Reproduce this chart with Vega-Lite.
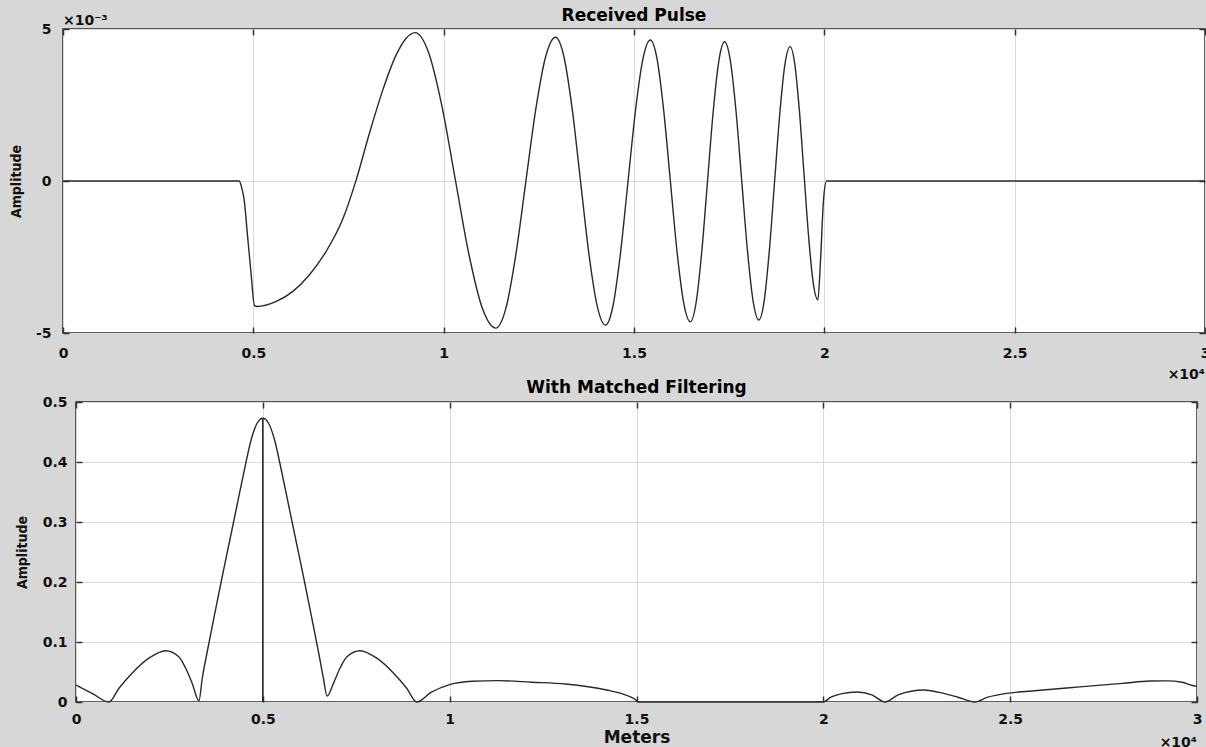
{
  "$schema": "https://vega.github.io/schema/vega-lite/v6.json",
  "background": "#d7d7d7",
  "padding": {"left": 8, "top": 6, "right": 0, "bottom": 0},
  "spacing": -5,
  "datasets": {
    "pulse": [
      {"m": 0, "amp": 0}, {"m": 4630, "amp": 0}, {"m": 4690, "amp": -0.0002}, {"m": 4760, "amp": -0.00063},
      {"m": 4850, "amp": -0.00183}, {"m": 4940, "amp": -0.00304}, {"m": 5030, "amp": -0.0041}, {"m": 5100, "amp": -0.00413},
      {"m": 5590, "amp": -0.00397}, {"m": 6030, "amp": -0.00364}, {"m": 6470, "amp": -0.00309}, {"m": 6910, "amp": -0.00232},
      {"m": 7350, "amp": -0.00125}, {"m": 7700, "amp": 0.00003}, {"m": 8050, "amp": 0.00157}, {"m": 8400, "amp": 0.00299},
      {"m": 8750, "amp": 0.00414}, {"m": 9010, "amp": 0.00469}, {"m": 9250, "amp": 0.00488},
      {"m": 9603, "amp": 0.004229}, {"m": 9957, "amp": 0.00245}, {"m": 10310, "amp": 0.00002}, {"m": 10663, "amp": -0.00241},
      {"m": 11017, "amp": -0.004189}, {"m": 11370, "amp": -0.00484},
      {"m": 11632, "amp": -0.004199}, {"m": 11893, "amp": -0.002448}, {"m": 12155, "amp": -0.000055}, {"m": 12417, "amp": 0.002338},
      {"m": 12678, "amp": 0.004089}, {"m": 12940, "amp": 0.00473},
      {"m": 13158, "amp": 0.004096}, {"m": 13377, "amp": 0.002363}, {"m": 13595, "amp": -0.000005}, {"m": 13813, "amp": -0.002373},
      {"m": 14032, "amp": -0.004106}, {"m": 14250, "amp": -0.00474},
      {"m": 14447, "amp": -0.004112}, {"m": 14643, "amp": -0.002395}, {"m": 14840, "amp": -0.00005}, {"m": 15037, "amp": 0.002295},
      {"m": 15233, "amp": 0.004012}, {"m": 15430, "amp": 0.00464},
      {"m": 15605, "amp": 0.004019}, {"m": 15780, "amp": 0.002323}, {"m": 15955, "amp": 0.000005}, {"m": 16130, "amp": -0.002313},
      {"m": 16305, "amp": -0.004009}, {"m": 16480, "amp": -0.00463},
      {"m": 16630, "amp": -0.004013}, {"m": 16780, "amp": -0.002328}, {"m": 16930, "amp": -0.000025}, {"m": 17080, "amp": 0.002278},
      {"m": 17230, "amp": 0.003963}, {"m": 17380, "amp": 0.00458},
      {"m": 17530, "amp": 0.003967}, {"m": 17680, "amp": 0.002293}, {"m": 17830, "amp": 0.000005}, {"m": 17980, "amp": -0.002283},
      {"m": 18130, "amp": -0.003957}, {"m": 18280, "amp": -0.00457},
      {"m": 18417, "amp": -0.003968}, {"m": 18553, "amp": -0.002323}, {"m": 18690, "amp": -0.000075}, {"m": 18827, "amp": 0.002173},
      {"m": 18963, "amp": 0.003818}, {"m": 19100, "amp": 0.00442},
      {"m": 19222, "amp": 0.003862}, {"m": 19343, "amp": 0.002338}, {"m": 19465, "amp": 0.000255}, {"m": 19587, "amp": -0.001828},
      {"m": 19708, "amp": -0.003352}, {"m": 19830, "amp": -0.00391},
      {"m": 19900, "amp": -0.0026}, {"m": 19980, "amp": -0.0006}, {"m": 20060, "amp": 0}, {"m": 30000, "amp": 0}
    ],
    "filtered": [
      {"m": 0, "amp": 0.028}, {"m": 440, "amp": 0.014}, {"m": 880, "amp": 0.0}, {"m": 1150, "amp": 0.023},
      {"m": 1500, "amp": 0.048}, {"m": 1950, "amp": 0.073}, {"m": 2400, "amp": 0.0855}, {"m": 2750, "amp": 0.0755},
      {"m": 2930, "amp": 0.057}, {"m": 3110, "amp": 0.031}, {"m": 3290, "amp": 0.002},
      {"m": 3380, "amp": 0.04}, {"m": 3500, "amp": 0.08}, {"m": 3700, "amp": 0.143}, {"m": 3900, "amp": 0.205},
      {"m": 4100, "amp": 0.265}, {"m": 4300, "amp": 0.325}, {"m": 4500, "amp": 0.385}, {"m": 4700, "amp": 0.44},
      {"m": 4850, "amp": 0.465}, {"m": 5000, "amp": 0.473}, {"m": 5150, "amp": 0.465}, {"m": 5300, "amp": 0.44},
      {"m": 5500, "amp": 0.385}, {"m": 5700, "amp": 0.325}, {"m": 5900, "amp": 0.265}, {"m": 6100, "amp": 0.205},
      {"m": 6300, "amp": 0.143}, {"m": 6500, "amp": 0.08}, {"m": 6620, "amp": 0.04}, {"m": 6720, "amp": 0.01},
      {"m": 6890, "amp": 0.031}, {"m": 7070, "amp": 0.057}, {"m": 7250, "amp": 0.0755}, {"m": 7600, "amp": 0.0855},
      {"m": 8050, "amp": 0.073}, {"m": 8500, "amp": 0.048}, {"m": 8850, "amp": 0.023}, {"m": 9120, "amp": 0.0},
      {"m": 9500, "amp": 0.016}, {"m": 10000, "amp": 0.029}, {"m": 10600, "amp": 0.0345}, {"m": 11300, "amp": 0.0356},
      {"m": 12200, "amp": 0.033}, {"m": 13100, "amp": 0.03}, {"m": 14200, "amp": 0.02}, {"m": 14700, "amp": 0.012},
      {"m": 14950, "amp": 0.005}, {"m": 15050, "amp": 0}, {"m": 20000, "amp": 0}, {"m": 20200, "amp": 0.008},
      {"m": 20500, "amp": 0.014}, {"m": 20900, "amp": 0.0167}, {"m": 21300, "amp": 0.012}, {"m": 21650, "amp": 0.0},
      {"m": 22000, "amp": 0.012}, {"m": 22350, "amp": 0.018}, {"m": 22700, "amp": 0.02}, {"m": 23100, "amp": 0.016},
      {"m": 23600, "amp": 0.008}, {"m": 24050, "amp": 0.0}, {"m": 24400, "amp": 0.008}, {"m": 24900, "amp": 0.0144},
      {"m": 25500, "amp": 0.018}, {"m": 26950, "amp": 0.0256}, {"m": 28000, "amp": 0.031}, {"m": 28750, "amp": 0.035},
      {"m": 29200, "amp": 0.0352}, {"m": 29600, "amp": 0.033}, {"m": 29850, "amp": 0.028}, {"m": 30000, "amp": 0.026}
    ],
    "stem": [{"m": 5000, "lo": 0, "hi": 0.473}],
    "expTop": [{"t": "×10⁻³"}],
    "exp4": [{"t": "×10⁴"}]
  },
  "config": {
    "view": {"fill": "white", "stroke": "#2b2b2b", "strokeWidth": 1.5},
    "axis": {
      "labelFont": "DejaVu Sans", "labelFontWeight": "bold", "labelFontSize": 14, "labelColor": "#111",
      "titleFont": "DejaVu Sans Condensed", "titleFontWeight": "bold", "titleFontSize": 14, "titleColor": "#111",
      "domain": false, "gridColor": "#dadada", "gridWidth": 1, "tickColor": "#333", "tickSize": -6, "tickWidth": 1.5,
      "labelFlush": false, "labelOverlap": false
    },
    "title": {"font": "DejaVu Sans", "fontWeight": "bold", "fontSize": 17, "color": "#000"}
  },
  "vconcat": [
    {
      "width": 1142,
      "height": 304,
      "title": {"text": "Received Pulse", "offset": -11},
      "resolve": {"axis": {"x": "independent", "y": "independent"}},
      "layer": [
        {
          "data": {"name": "pulse"},
          "mark": {"type": "line", "interpolate": "monotone", "color": "#2a2a2a", "strokeWidth": 1.4},
          "encoding": {
            "x": {"field": "m", "type": "quantitative", "scale": {"domain": [0, 30000], "nice": false},
                  "axis": {"orient": "bottom", "values": [0, 5000, 10000, 15000, 20000, 25000, 30000], "labelExpr": "'' + datum.value / 10000", "grid": true, "title": null, "labelPadding": 19}},
            "y": {"field": "amp", "type": "quantitative", "scale": {"domain": [-0.005, 0.005], "nice": false},
                  "axis": {"orient": "left", "values": [-0.005, 0, 0.005], "labelExpr": "'' + round(datum.value * 1000)", "grid": true, "title": "Amplitude", "labelPadding": 18, "titlePadding": 12}}
          }
        },
        {
          "data": {"name": "expTop"},
          "mark": {"type": "text", "align": "left", "baseline": "alphabetic", "dy": -4, "font": "DejaVu Sans", "fontSize": 14, "fontWeight": "bold", "color": "#111"},
          "encoding": {
            "text": {"field": "t"},
            "x": {"datum": 0, "type": "quantitative", "scale": {"domain": [0, 30000], "nice": false},
                  "axis": {"orient": "top", "values": [0, 5000, 10000, 15000, 20000, 25000, 30000], "labels": false, "grid": false, "title": null}},
            "y": {"datum": 0.005, "type": "quantitative", "scale": {"domain": [-0.005, 0.005], "nice": false},
                  "axis": {"orient": "right", "values": [-0.005, 0, 0.005], "labels": false, "grid": false, "title": null}}
          }
        },
        {
          "data": {"name": "exp4"},
          "mark": {"type": "text", "align": "right", "baseline": "middle", "dy": 42, "font": "DejaVu Sans", "fontSize": 14, "fontWeight": "bold", "color": "#111"},
          "encoding": {
            "text": {"field": "t"},
            "x": {"datum": 30000, "type": "quantitative", "axis": null},
            "y": {"datum": -0.005, "type": "quantitative", "axis": null}
          }
        }
      ]
    },
    {
      "hconcat": [
        {
          "width": 14,
          "height": 300,
          "view": {"stroke": null, "fill": null},
          "data": {"name": "stem"},
          "mark": {"type": "rule", "opacity": 0},
          "encoding": {
            "y": {"field": "lo", "type": "quantitative", "scale": {"domain": [0, 0.5], "nice": false},
                  "axis": {"orient": "left", "offset": -14, "values": [0, 0.1, 0.2, 0.3, 0.4, 0.5], "labelExpr": "datum.value == 0 ? '0' : format(datum.value, '.1f')", "grid": false, "ticks": false, "tickSize": 0, "title": "Amplitude", "labelPadding": 10, "titlePadding": 13}},
            "y2": {"field": "hi"}
          }
        },
        {
          "width": 1121,
          "height": 300,
          "title": {"text": "With Matched Filtering", "offset": 4},
          "resolve": {"axis": {"x": "independent", "y": "independent"}},
          "layer": [
            {
              "data": {"name": "filtered"},
              "mark": {"type": "line", "interpolate": "monotone", "color": "#2a2a2a", "strokeWidth": 1.4},
              "encoding": {
                "x": {"field": "m", "type": "quantitative", "scale": {"domain": [0, 30000], "nice": false},
                      "axis": {"orient": "bottom", "values": [0, 5000, 10000, 15000, 20000, 25000, 30000], "labelExpr": "'' + datum.value / 10000", "grid": true, "title": "Meters", "titleFont": "DejaVu Sans", "titleFontSize": 17, "labelPadding": 16, "titlePadding": 3}},
                "y": {"field": "amp", "type": "quantitative", "scale": {"domain": [0, 0.5], "nice": false},
                      "axis": {"orient": "left", "values": [0, 0.1, 0.2, 0.3, 0.4, 0.5], "labels": false, "grid": true, "title": null}}
              }
            },
            {
              "data": {"name": "stem"},
              "mark": {"type": "rule", "color": "#2a2a2a", "strokeWidth": 1.6},
              "encoding": {
                "x": {"field": "m", "type": "quantitative", "scale": {"domain": [0, 30000], "nice": false},
                      "axis": {"orient": "top", "values": [0, 5000, 10000, 15000, 20000, 25000, 30000], "labels": false, "grid": false, "title": null}},
                "y": {"field": "lo", "type": "quantitative", "scale": {"domain": [0, 0.5], "nice": false},
                      "axis": {"orient": "right", "values": [0, 0.1, 0.2, 0.3, 0.4, 0.5], "labels": false, "grid": false, "title": null}},
                "y2": {"field": "hi"}
              }
            },
            {
              "data": {"name": "exp4"},
              "mark": {"type": "text", "align": "right", "baseline": "middle", "dy": 41, "font": "DejaVu Sans", "fontSize": 14, "fontWeight": "bold", "color": "#111"},
              "encoding": {
                "text": {"field": "t"},
                "x": {"datum": 30000, "type": "quantitative", "axis": null},
                "y": {"datum": 0, "type": "quantitative", "axis": null}
              }
            }
          ]
        }
      ],
      "spacing": -7,
      "align": "none"
    }
  ]
}
